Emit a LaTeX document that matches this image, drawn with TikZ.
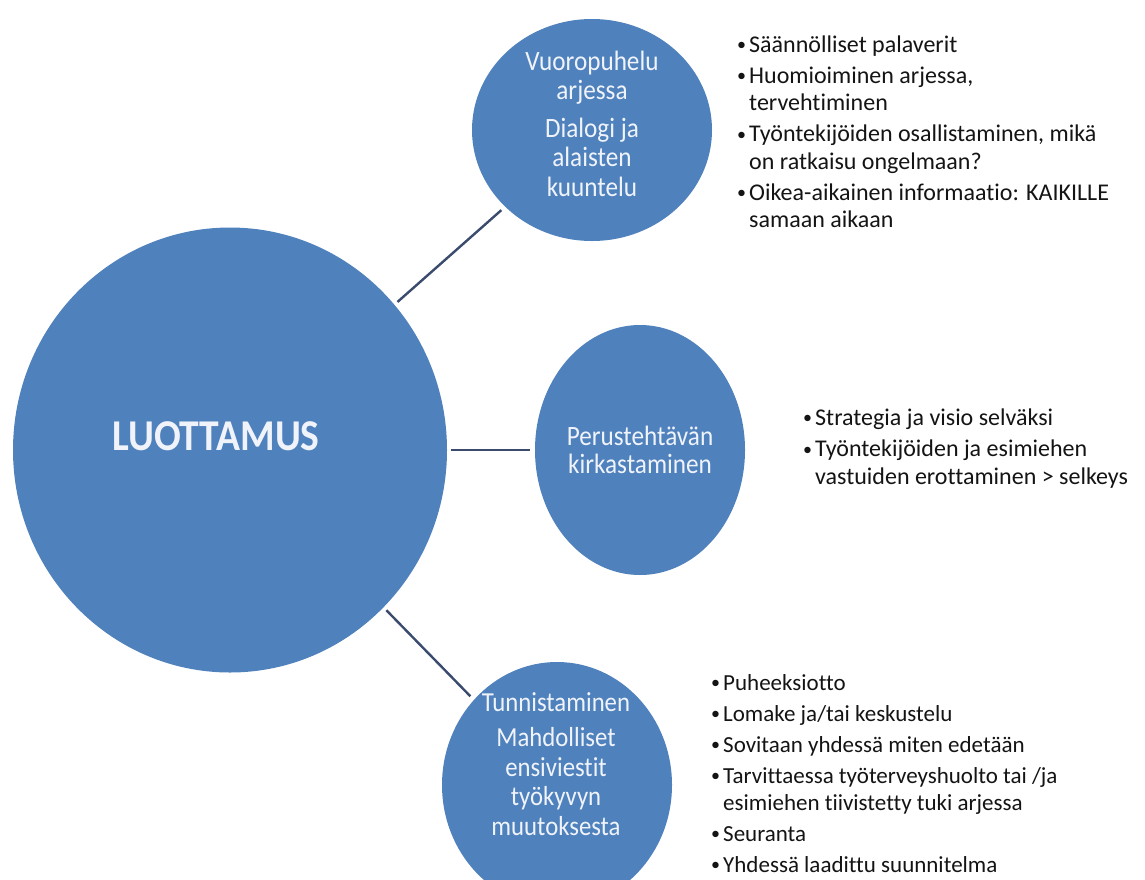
\documentclass[tikz,border=0pt]{standalone}
\usepackage{fontspec}
\setmainfont[Ligatures=NoCommon]{Carlito}
\newfontfamily\circfont[FakeStretch=0.9,Ligatures=NoCommon]{Carlito}
\usetikzlibrary{shapes.geometric}
\definecolor{circblue}{RGB}{79,129,189}
\definecolor{linkcol}{RGB}{58,75,110}
\definecolor{circtxt}{RGB}{240,244,250}
\definecolor{listtxt}{RGB}{20,20,20}
\newcommand{\bul}{\makebox[12pt][l]{\raisebox{1.5pt}{\fontsize{18}{18}\selectfont •}}}
\newcommand{\cont}{\hspace*{12pt}}
\begin{document}
\begin{tikzpicture}[x=1pt,y=-1pt,
  bubble/.style={ellipse, fill=circblue, draw=none, inner sep=0pt},
  link/.style={draw=linkcol, line width=2.4pt, shorten <=4pt, shorten >=5pt},
  ctext/.style={text=circtxt, inner sep=0pt, anchor=base},
  ltext/.style={text=listtxt, inner sep=0pt, anchor=base west}]
\useasboundingbox[fill=white] (0,0) rectangle (1145,879);

\node[bubble, minimum width=434pt, minimum height=445pt] (big) at (230,450) {};
\node[bubble, minimum width=240pt, minimum height=222pt] (c1) at (592,130) {};
\node[bubble, minimum width=210pt, minimum height=250pt] (c2) at (640,450) {};
\node[bubble, minimum width=230pt, minimum height=246pt] (c3) at (557,785) {};

\draw[link] (big) -- (c1);
\draw[link] (big) -- (c2);
\draw[link] (big) -- (c3);

\node[ctext, font=\circfont\fontsize{44}{50}\selectfont\bfseries] (tbig) at (216,450) {LUOTTAMUS};

\node[ctext] (t1) at (592,70) {\circfont\fontsize{28}{29.5}\selectfont\begin{tabular}[t]{@{}c@{}}
Vuoropuhelu\\ arjessa\\[8pt] Dialogi ja\\ alaisten\\ kuuntelu\end{tabular}};

\node[ctext] (t2) at (640,445) {\circfont\fontsize{28}{28}\selectfont\begin{tabular}[t]{@{}c@{}}
Perustehtävän\\ kirkastaminen\end{tabular}};

\node[ctext] (t3) at (556,711) {\circfont\fontsize{27.5}{29.5}\selectfont\begin{tabular}[t]{@{}c@{}}
Tunnistaminen\\[6pt] Mahdolliset\\ ensiviestit\\ työkyvyn\\ muutoksesta\end{tabular}};

\node[ltext] (l1) at (737,52) {\fontsize{24}{27.5}\selectfont\begin{tabular}[t]{@{}l@{}}
\bul Säännölliset palaverit\\[3.5pt]
\bul Huomioiminen arjessa,\\
\cont tervehtiminen\\[3.5pt]
\bul Työntekijöiden osallistaminen, mikä\\
\cont on ratkaisu ongelmaan?\\[3.5pt]
\bul Oikea-aikainen informaatio: KAIKILLE\\
\cont samaan aikaan\end{tabular}};

\node[ltext] (l2) at (803,425) {\fontsize{24}{27.5}\selectfont\begin{tabular}[t]{@{}l@{}}
\bul Strategia ja visio selväksi\\[4pt]
\bul Työntekijöiden ja esimiehen\\
\cont vastuiden erottaminen > selkeys\end{tabular}};

\node[ltext] (l3) at (711,690) {\fontsize{23}{27}\selectfont\begin{tabular}[t]{@{}l@{}}
\bul Puheeksiotto\\[4pt]
\bul Lomake ja/tai keskustelu\\[4pt]
\bul Sovitaan yhdessä miten edetään\\[4pt]
\bul Tarvittaessa työterveyshuolto tai /ja\\
\cont esimiehen tiivistetty tuki arjessa\\[4pt]
\bul Seuranta\\[4pt]
\bul Yhdessä laadittu suunnitelma\end{tabular}};
\end{tikzpicture}
\end{document}
